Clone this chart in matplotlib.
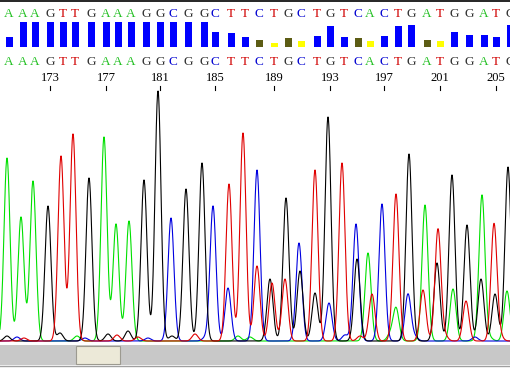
import numpy as np
import matplotlib.pyplot as plt
from matplotlib.patches import Rectangle

# base calls, scan position of each peak, peak height and quality value
bases = list("AAAGTTGAAAGGCGGCTTCTGCTGTCACTGATGGATG")
peak_x = [7, 21, 33, 48, 61, 73, 89, 104, 116, 129,
          144, 158, 171, 186, 202, 213, 229, 243, 257, 272,
          286, 299, 315, 328, 342, 356, 368, 382, 396, 409,
          425, 438, 452, 467, 482, 494, 508]
peak_h = [183, 124, 160, 135, 185, 207, 163, 204, 117, 120,
          161, 250, 123, 152, 178, 135, 157, 208, 171, 58,
          143, 98, 171, 224, 178, 117, 88, 137, 147, 187,
          136, 112, 166, 116, 146, 117, 174]
quality = [10, 25, 25, 25, 25, 25, 25, 25, 25, 25,
           25, 25, 25, 25, 25, 15, 14, 10, 7, 4,
           9, 6, 11, 21, 10, 9, 6, 11, 21, 22,
           7, 6, 15, 12, 12, 10, 22]
first_pos = 170

# secondary / background peaks: channel, position, height
extra_base = ["C", "T", "G", "T", "G", "G", "C", "G", "T", "A", "C", "T",
              "G", "A", "T", "G", "G", "A",
              "G", "C", "T", "G", "A", "C", "G", "T", "G", "T", "C", "G",
              "T", "C", "A", "A", "C", "T", "A", "C", "T", "C", "A", "T"]
extra_x = [228, 257, 270, 285, 300, 315, 329, 357, 372, 396, 408, 423,
           437, 453, 466, 481, 495, 507,
           7, 17, 24, 60, 77, 85, 108, 117, 128, 138, 148, 172,
           195, 205, 238, 250, 345, 360, 390, 415, 445, 475, 490, 500]
extra_h = [53, 75, 62, 62, 70, 48, 38, 82, 47, 33, 47, 51,
           78, 52, 40, 62, 47, 50,
           5, 4, 3, 8, 5, 3, 7, 6, 10, 4, 3, 5,
           7, 3, 5, 4, 6, 5, 6, 4, 5, 4, 3, 5]

base_color = {"A": "#22c022", "C": "#0000d0", "G": "#303030", "T": "#d00000"}
trace_color = {"A": "#00e000", "C": "#0000e0", "G": "#000000", "T": "#e00000"}

BASELINE = 341
SIGMA = 3.0

fig = plt.figure(figsize=(5.12, 3.84), dpi=100)
ax = fig.add_axes([0, 0, 1, 1])
ax.set_xlim(0, 512)
ax.set_ylim(384, 0)
ax.axis("off")

call_x = np.array(peak_x) + 2

# top border
ax.plot([0, 510], [1, 1], color="black", lw=1.2)

# base letters (top and bottom rows)
for b, x in zip(bases, call_x):
    for y in (14, 62):
        ax.text(x, y, b, color=base_color[b], ha="center", va="center",
                fontsize=9.5, family="Liberation Serif")

# quality bars
def q_color(q):
    if q < 7:
        return "#ffff00"
    if q < 10:
        return "#5c5c14"
    return "#0000ff"

ax.bar(call_x, [-q for q in quality], bottom=47, width=7,
       color=[q_color(q) for q in quality])

# position ticks every 4 bases
for i, x in enumerate(call_x):
    pos = first_pos + i
    if pos % 4 == 1:
        ax.text(x, 78, str(pos), ha="center", va="center", fontsize=9,
                family="Liberation Serif", color="black")
        ax.plot([x, x], [86, 90], color="black", lw=0.8)

# traces
xs = np.linspace(-10, 515, 4000)
for ch in ["A", "C", "G", "T"]:
    sig = np.zeros_like(xs)
    for b, x, h in zip(bases, peak_x, peak_h):
        if b == ch:
            sig += h * np.exp(-(xs - x) ** 2 / (2 * SIGMA ** 2))
    for b, x, h in zip(extra_base, extra_x, extra_h):
        if b == ch:
            sig += h * np.exp(-(xs - x) ** 2 / (2 * SIGMA ** 2))
    ax.plot(xs, BASELINE - sig, color=trace_color[ch], lw=0.8)

# scroll bar
ax.add_patch(Rectangle((0, 345), 510, 20, facecolor="#c8c8c8",
                       edgecolor="none", zorder=5))
ax.plot([0, 510], [365.5, 365.5], color="#a0a0a0", lw=1, zorder=5)
ax.add_patch(Rectangle((76, 346), 44, 18, facecolor="#ece9d8",
                       edgecolor="#9c9a90", lw=0.8, zorder=6))
# white margin on the right
ax.add_patch(Rectangle((510, 0), 4, 384, facecolor="white",
                       edgecolor="none", zorder=7))

fig.savefig("out.png", dpi=100)
